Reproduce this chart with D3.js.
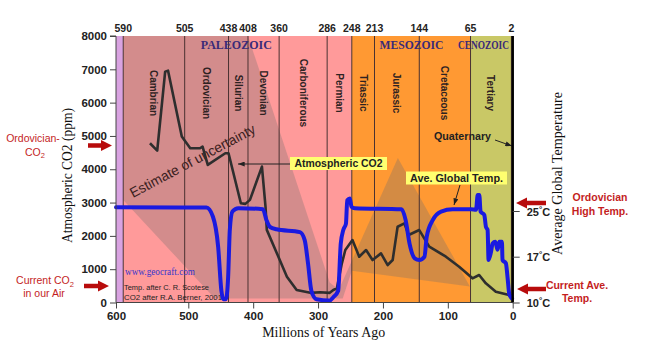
<!DOCTYPE html>
<html><head><meta charset="utf-8">
<script src="https://cdn.jsdelivr.net/npm/d3@7"></script>
<style>body{margin:0;background:#fff} svg{display:block}</style>
</head><body>
<svg id="c" width="658" height="358"></svg>
<script>
// ---------- data ----------
const ageTicks = [600, 500, 400, 300, 200, 100, 0];
const co2Ticks = [0, 1000, 2000, 3000, 4000, 5000, 6000, 7000, 8000];
const tempTicks = [10, 17, 25];
const boundaryAges = [590, 505, 438, 408, 360, 286, 248, 213, 144, 65, 2];
const periodNames = ["Cambrian", "Ordovician", "Silurian", "Devonian", "Carboniferous",
                     "Permian", "Triassic", "Jurassic", "Cretaceous", "Tertiary"];
const bgBands = [[600, 590], [590, 248], [248, 65], [65, 0]];
const eraNames = ["PALEOZOIC", "MESOZOIC", "CENOZOIC"];
const eraLabelAges = [426, 156, 45];
// CO2 (ppm) by age (Ma)
const co2Age = [553, 543, 532, 528, 509, 497, 482, 478, 470, 443, 438, 419, 412, 405, 386.5, 381, 379, 363.5, 348, 333, 312, 297, 282, 276.5, 271, 263.3, 258, 247, 236.6, 226, 216, 203, 192.7, 185, 177.4, 167, 160.4, 144, 128.6, 102.9, 82.5, 62, 51.7, 41.4, 26, 5.5, 0];
const co2Val = [4780, 4560, 6930, 6960, 4980, 4630, 4630, 4680, 4130, 4480, 4480, 2980, 2960, 3080, 4080, 2880, 2180, 1480, 775, 375, 290, 310, 290, 375, 425, 1175, 1575, 1875, 1375, 1575, 1275, 1475, 1125, 1275, 2275, 2375, 2025, 2175, 1675, 1375, 1075, 725, 825, 575, 325, 225, 200];
// Average global temperature (°C) by age (Ma)
const tempAge = [600, 472, 462, 454, 449, 446, 442, 438.6, 436, 432, 423, 385, 379.5, 374, 364, 328, 320.6, 315.5, 310.3, 302.6, 282, 276.5, 269, 265, 261, 257, 255, 251, 248.5, 243.4, 171.5, 165, 159, 151, 144, 136, 132.5, 123.3, 110.4, 92.5, 64.2, 56.5, 54, 51.5, 49.5, 43.8, 41.2, 38.7, 37.2, 33.5, 31, 26.8, 23.3, 20.7, 16.6, 15.7, 10.5, 8, 5.3, 2.7, 1];
const tempVal = [25.65, 25.6, 24.0, 18.75, 11.8, 10.5, 10.5, 13.9, 21.7, 24.9, 25.5, 25.3, 23.4, 22.2, 21.8, 21.3, 19.9, 16.0, 11.8, 10.5, 10.3, 10.8, 11.8, 19.3, 21.7, 22.8, 26.9, 27.2, 25.75, 25.5, 25.3, 23.4, 19.3, 16.75, 16.5, 17.0, 20.5, 23.4, 24.9, 25.3, 25.3, 25.2, 27.8, 27.8, 24.9, 24.3, 22.2, 21.7, 16.5, 17.8, 19.3, 19.6, 18.2, 19.6, 19.6, 16.5, 16.0, 13.9, 11.3, 10.8, 10.6];
// Estimate of uncertainty envelope (age, ppm)
const bandAge = [590, 408, 282, 268, 177, 66, 248, 262, 459, 590];
const bandVal = [8000, 8000, 600, 380, 4340, 480, 950, 120, 120, 3075];

// ---------- scales ----------
const svg = d3.select("#c");
const x = d3.scaleLinear().domain([600, 500, 0]).range([116, 188.3, 512.7]);
const y = d3.scaleLinear().domain([0, 8000]).range([302.5, 36]);
const yT = d3.scaleLinear().domain([10, 17, 25]).range([302.5, 256.7, 211]);

const bgColors = ["#d9a3e1", "#ff9a9a", "#ff9933", "#c9c866"];
const sans = "'Liberation Sans', Arial, sans-serif";
const serif = "'Liberation Serif', 'Times New Roman', serif";

// backgrounds
svg.append("g").selectAll("rect").data(bgBands).join("rect")
  .attr("x", d => x(d[0])).attr("width", d => x(d[1]) - x(d[0]))
  .attr("y", y(8000)).attr("height", y(0) - y(8000))
  .attr("fill", (d, i) => bgColors[i]);

// uncertainty band
const bandPts = bandAge.map((a, i) => [a, bandVal[i]]);
svg.append("path")
  .attr("d", d3.line().x(d => x(d[0])).y(d => y(d[1]))(bandPts) + "Z")
  .attr("fill", "rgba(110,110,110,0.3)");

// boundary lines
svg.append("g").selectAll("line").data(boundaryAges).join("line")
  .attr("x1", d => x(d)).attr("x2", d => x(d))
  .attr("y1", y(8000)).attr("y2", y(0))
  .attr("stroke", "#4a3232").attr("stroke-width", 1);

// top labels
svg.append("g").selectAll("text").data(boundaryAges).join("text")
  .attr("x", d => x(d)).attr("y", 32).attr("text-anchor", "middle")
  .attr("font-family", sans).attr("font-weight", "bold").attr("font-size", 10.5)
  .attr("fill", "#222").text(d => d);

// era labels
svg.append("g").selectAll("text").data(eraNames).join("text")
  .attr("x", (d, i) => x(eraLabelAges[i])).attr("y", 49).attr("text-anchor", "middle")
  .attr("font-family", serif).attr("font-weight", "bold").attr("font-size", 13)
  .attr("textLength", (d, i) => [71, 64, 51][i]).attr("lengthAdjust", "spacingAndGlyphs")
  .attr("fill", "#3a2a78").text(d => d);

// period labels
svg.append("g").selectAll("text").data(periodNames).join("text")
  .attr("transform", (d, i) => `translate(${x((boundaryAges[i] + boundaryAges[i + 1]) / 2)},93) rotate(90)`)
  .attr("text-anchor", "middle").attr("dy", "0.35em")
  .attr("font-family", sans).attr("font-weight", "bold").attr("font-size", 10)
  .attr("fill", "#2e2222").text(d => d);

// estimate of uncertainty
svg.append("text").attr("transform", "translate(133,198) rotate(-28)")
  .attr("font-family", sans).attr("font-size", 14).attr("fill", "#3a2020")
  .attr("textLength", 140).attr("lengthAdjust", "spacingAndGlyphs")
  .text("Estimate of uncertainty");

// credits
svg.append("text").attr("x", 125).attr("y", 274.5).attr("font-family", serif)
  .attr("font-size", 10).attr("fill", "#3535cc").attr("textLength", 70)
  .attr("lengthAdjust", "spacingAndGlyphs").text("www.geocraft.com");
svg.append("text").attr("x", 124).attr("y", 289.5).attr("font-family", sans)
  .attr("font-size", 7.5).attr("fill", "#222").attr("textLength", 85)
  .attr("lengthAdjust", "spacingAndGlyphs").text("Temp. after C. R. Scotese");
svg.append("text").attr("x", 124).attr("y", 299.5).attr("font-family", sans)
  .attr("font-size", 7.5).attr("fill", "#222").attr("textLength", 98)
  .attr("lengthAdjust", "spacingAndGlyphs").text("CO2 after R.A. Berner, 2001");

// CO2 line
const co2Pts = co2Age.map((a, i) => [a, co2Val[i]]);
svg.append("path")
  .attr("d", d3.line().x(d => x(d[0])).y(d => y(d[1]))(co2Pts))
  .attr("fill", "none").attr("stroke", "#2e2e2e").attr("stroke-width", 2.6)
  .attr("stroke-linejoin", "round");

// temperature line
const tPts = tempAge.map((a, i) => [a, tempVal[i]]);
svg.append("path")
  .attr("d", d3.line().curve(d3.curveMonotoneX).x(d => x(d[0])).y(d => yT(d[1]))(tPts))
  .attr("fill", "none").attr("stroke", "#1a1ae0").attr("stroke-width", 4)
  .attr("stroke-linejoin", "round").attr("stroke-linecap", "round");

// markers
const defs = svg.append("defs");
defs.append("marker").attr("id", "ah").attr("viewBox", "0 0 8 6")
  .attr("refX", 8).attr("refY", 3).attr("markerWidth", 7).attr("markerHeight", 5)
  .attr("orient", "auto").attr("markerUnits", "userSpaceOnUse")
  .append("path").attr("d", "M0,0L8,3L0,6Z").attr("fill", "#222");

// Atmospheric CO2 label
svg.append("rect").attr("x", 290).attr("y", 157).attr("width", 97).attr("height", 13).attr("fill", "#ffff70");
svg.append("text").attr("x", 338.5).attr("y", 167.3).attr("text-anchor", "middle")
  .attr("font-family", sans).attr("font-weight", "bold").attr("font-size", 10)
  .attr("textLength", 88).attr("lengthAdjust", "spacingAndGlyphs").attr("fill", "#222")
  .text("Atmospheric CO2");
svg.append("line").attr("x1", 290).attr("y1", 164).attr("x2", 238).attr("y2", 164)
  .attr("stroke", "#222").attr("stroke-width", 1).attr("marker-end", "url(#ah)");

// Ave Global Temp label
svg.append("rect").attr("x", 406).attr("y", 171.5).attr("width", 101).attr("height", 13).attr("fill", "#ffff70");
svg.append("text").attr("x", 456.5).attr("y", 181.8).attr("text-anchor", "middle")
  .attr("font-family", sans).attr("font-weight", "bold").attr("font-size", 10)
  .attr("textLength", 93).attr("lengthAdjust", "spacingAndGlyphs").attr("fill", "#222")
  .text("Ave. Global Temp.");
svg.append("line").attr("x1", 460).attr("y1", 185).attr("x2", 454).attr("y2", 205)
  .attr("stroke", "#222").attr("stroke-width", 1).attr("marker-end", "url(#ah)");

// Quaternary
svg.append("text").attr("x", 434).attr("y", 140).attr("font-family", sans)
  .attr("font-weight", "bold").attr("font-size", 10).attr("textLength", 57)
  .attr("lengthAdjust", "spacingAndGlyphs").attr("fill", "#222").text("Quaternary");
svg.append("line").attr("x1", 495).attr("y1", 140).attr("x2", 512).attr("y2", 146)
  .attr("stroke", "#222").attr("stroke-width", 1).attr("marker-end", "url(#ah)");

// ---------- axes ----------
const axL = svg.append("g").attr("transform", `translate(${x(600)},0)`)
  .call(d3.axisLeft(y).tickValues(co2Ticks).tickFormat(d3.format("d")).tickSize(6).tickPadding(3));
const axB = svg.append("g").attr("transform", `translate(0,${y(0)})`)
  .call(d3.axisBottom(x).tickValues(ageTicks).tickFormat(d3.format("d")).tickSize(6).tickPadding(3));
[axL, axB].forEach(g => {
  g.selectAll("text").attr("font-family", sans).attr("font-weight", "bold")
    .attr("font-size", 11.5).attr("fill", "#222");
  g.selectAll("line").attr("stroke", "#444");
  g.select(".domain").attr("stroke", "#444");
});
axL.select(".domain").attr("d", `M-6,${y(8000)}H0V${y(0)}`);
axB.select(".domain").attr("d", `M${x(600)},0H${x(0)}`);

const axR = svg.append("g").attr("transform", `translate(${x(0)},0)`)
  .call(d3.axisRight(yT).tickValues(tempTicks).tickSize(7).tickFormat(""));
axR.select(".domain").attr("d", `M0,${y(8000)}V${y(0)}`).attr("stroke", "#000").attr("stroke-width", 2.5);
axR.selectAll("line").attr("stroke", "#444");
const tl = svg.append("g").selectAll("text").data(tempTicks).join("text")
  .attr("x", x(0) + 14).attr("y", d => yT(d) + 4.5)
  .attr("font-family", sans).attr("font-weight", "bold").attr("font-size", 11).attr("fill", "#222");
tl.append("tspan").text(d => d);
tl.append("tspan").attr("font-size", 8).attr("dy", -4).text("°");
tl.append("tspan").attr("dy", 4).text("C");

// axis titles
svg.append("text").attr("transform", "translate(72,175.5) rotate(-90)").attr("text-anchor", "middle")
  .attr("font-family", serif).attr("font-size", 14.5).attr("fill", "#111")
  .attr("textLength", 135).attr("lengthAdjust", "spacingAndGlyphs").text("Atmospheric CO2 (ppm)");
svg.append("text").attr("transform", "translate(562,173.5) rotate(-90)").attr("text-anchor", "middle")
  .attr("font-family", serif).attr("font-size", 14.5).attr("fill", "#111")
  .attr("textLength", 163).attr("lengthAdjust", "spacingAndGlyphs").text("Average Global Temperature");
svg.append("text").attr("x", 323.7).attr("y", 337).attr("text-anchor", "middle")
  .attr("font-family", serif).attr("font-size", 14.5).attr("fill", "#111")
  .attr("textLength", 123).attr("lengthAdjust", "spacingAndGlyphs").text("Millions of Years Ago");

// ---------- red annotations ----------
function redArrow(x0, x1, yc) {
  const dir = Math.sign(x1 - x0), hl = 11, hw = 5.5, sw = 2.3, xb = x1 - dir * hl;
  return `M${x0},${yc - sw}L${xb},${yc - sw}L${xb},${yc - hw}L${x1},${yc}L${xb},${yc + hw}L${xb},${yc + sw}L${x0},${yc + sw}Z`;
}
const red = "#c41e1e";
[[88, 112, 145.5], [84, 109, 286], [546, 516, 203], [546, 517, 289]].forEach(a => {
  svg.append("path").attr("d", redArrow(a[0], a[1], a[2])).attr("fill", "#b80c0c");
});
function redText(tx, ty, parts) {
  const t = svg.append("text").attr("x", tx).attr("y", ty).attr("text-anchor", "middle")
    .attr("font-family", sans).attr("font-size", 10.5).attr("fill", red);
  parts.forEach(p => {
    const s = t.append("tspan").text(p[0]);
    if (p[1]) s.attr("font-size", 7.5).attr("dy", 2.5);
  });
  return t;
}
redText(33, 142, [["Ordovician-"]]);
redText(35, 155.5, [["CO"], ["2", true]]);
redText(45, 284, [["Current  CO"], ["2", true]]);
svg.append("text").attr("x", 44).attr("y", 297).attr("text-anchor", "middle")
  .attr("font-family", sans).attr("font-size", 10.5).attr("fill", red).text("in our  Air");
[["Ordovician", 600, 200.5], ["High Temp.", 600, 214.5], ["Current Ave.", 577, 289], ["Temp.", 577, 302]].forEach(d => {
  svg.append("text").attr("x", d[1]).attr("y", d[2]).attr("text-anchor", "middle")
    .attr("font-family", sans).attr("font-weight", "bold").attr("font-size", 10.5)
    .attr("fill", red).text(d[0]);
});
</script>
</body></html>
